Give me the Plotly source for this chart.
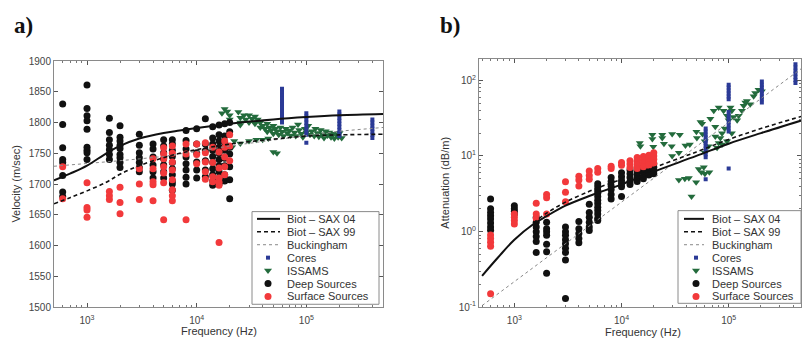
import plotly.graph_objects as go

# ---------------- Panel a : velocity ----------------
col_freqs = [600, 1000, 1600, 2000, 3000, 4000, 5000, 6000, 8000, 10000, 12000, 14000, 16000, 18000, 20000]

a_deep_vals = [
    [1830, 1797, 1759, 1740, 1735, 1714, 1687, 1680],
    [1861, 1823, 1811, 1803, 1789, 1760, 1755, 1751, 1740],
    [1807, 1784, 1772, 1763, 1756, 1748, 1740],
    [1795, 1776, 1770, 1763, 1758, 1748, 1743, 1735, 1727],
    [1781, 1763, 1751, 1743, 1735, 1727, 1720],
    [1765, 1757, 1744, 1731, 1720, 1710],
    [1772, 1762, 1751, 1741, 1731, 1720, 1710],
    [1772, 1765, 1755, 1745, 1735, 1725, 1715, 1705, 1700, 1690],
    [1787, 1771, 1757, 1744, 1733, 1723, 1711, 1700],
    [1790, 1765, 1751, 1736, 1723, 1710],
    [1806, 1765, 1754, 1738, 1723, 1712],
    [1793, 1775, 1765, 1755, 1745, 1735, 1725, 1715, 1705, 1698],
    [1796, 1780, 1770, 1760, 1750, 1740, 1730, 1720, 1710, 1700],
    [1798, 1778, 1768, 1755, 1742, 1730, 1715, 1705],
    [1800, 1785, 1760, 1749, 1728, 1707, 1676],
]
a_surf_vals = [
    [1728, 1676],
    [1702, 1662, 1658, 1646],
    [1688, 1681, 1675],
    [1695, 1670, 1652],
    [1725, 1700, 1675],
    [1741, 1725, 1704, 1699, 1673],
    [1759, 1749, 1741, 1728, 1718, 1702, 1642],
    [1762, 1750, 1736, 1723, 1707, 1691, 1681, 1673],
    [1765, 1749, 1642],
    [1765, 1748, 1733],
    [1767, 1751, 1736, 1720, 1708],
    [1760, 1735, 1712, 1704],
    [1752, 1726, 1710, 1703, 1698, 1605],
    [1770, 1760, 1744, 1728, 1715],
    [1780, 1762, 1738],
]
a_issams_f = [17000, 18000, 19000, 20000, 20000, 21000, 22000, 24000, 25000, 25000, 25000, 27000,
              28000, 30000, 30000, 32000, 34000, 34000, 36000, 38000, 38000, 40000, 42000, 44000,
              44000, 46000, 48000, 50000, 50000, 52000, 54000, 56000, 58000, 60000, 62000, 65000,
              67000, 70000, 72000, 75000, 78000, 80000, 84000, 86000, 90000, 93000, 97000, 100000,
              104000, 108000, 112000, 118000, 121000, 126000, 130000, 135000, 140000, 145000,
              150000, 156000, 162000, 168000, 174000, 180000, 187000, 195000, 201000, 210000,
              25000, 30000, 35000, 40000, 45000, 50000, 54000]
a_issams_v = [1815, 1822, 1818, 1812, 1805, 1760, 1770, 1817, 1808, 1800, 1796, 1812,
              1805, 1812, 1800, 1806, 1810, 1798, 1805, 1800, 1792, 1795, 1790, 1798,
              1785, 1792, 1788, 1795, 1782, 1790, 1786, 1780, 1792, 1785, 1778, 1790,
              1783, 1787, 1779, 1792, 1784, 1778, 1797, 1788, 1782, 1776, 1790, 1784,
              1795, 1780, 1786, 1778, 1790, 1783, 1777, 1788, 1781, 1775,
              1786, 1779, 1784, 1776, 1782, 1774, 1780, 1776, 1783, 1775,
              1766, 1770, 1772, 1772, 1774, 1752, 1750]
a_core_f = [60000] * 12 + [100000] * 9 + [200000] * 9 + [400000] * 7
a_core_v = [1800, 1805, 1810, 1815, 1820, 1825, 1830, 1835, 1840, 1845, 1850, 1855,
            1767, 1780, 1785, 1790, 1795, 1800, 1805, 1810, 1815,
            1778, 1783, 1788, 1793, 1798, 1803, 1808, 1813, 1818,
            1775, 1780, 1785, 1790, 1795, 1800, 1805]

curve_f = [500, 700, 1000, 1500, 2000, 3000, 5000, 7000, 10000, 20000, 50000, 100000, 200000, 500000]
a_sax04 = [1706, 1717, 1730, 1750, 1762, 1774, 1783, 1787, 1791, 1798, 1805, 1809, 1812, 1814]
a_sax99 = [1668, 1678, 1689, 1703, 1716, 1730, 1743, 1750, 1756, 1765, 1773, 1778, 1780, 1781]
a_buck = [1729, 1731, 1733, 1736, 1738, 1741, 1745, 1749, 1753, 1762, 1772, 1779, 1786, 1792]

# ---------------- Panel b : attenuation ----------------
b_deep_vals = [
    [2.7, 2.0, 1.79, 1.62, 1.47, 1.3, 1.15, 1.04],
    [2.2, 2.0, 1.85, 1.7],
    [1.55, 1.33, 1.15, 0.99, 0.86, 0.74, 0.53],
    [1.33, 1.09, 0.99, 0.89, 0.68, 0.54, 0.28],
    [1.15, 0.99, 0.89, 0.78, 0.69, 0.6, 0.53, 0.42, 0.13],
    [1.36, 1.09, 0.94, 0.81, 0.71],
    [2.3, 1.79, 1.55, 1.33, 1.15, 1.03],
    [4.3, 3.9, 3.5, 3.2, 2.9, 2.6, 2.35, 2.1, 1.9, 1.7, 1.5, 1.4],
    [5.2, 4.6, 4.0, 3.6, 3.1, 2.7],
    [6.0, 5.3, 4.7, 4.3, 3.9, 2.9],
    [6.5, 5.8, 5.2, 4.6, 4.2],
    [7.0, 6.3, 5.6, 5.0, 4.6],
    [7.2, 6.6, 6.0, 5.4, 5.0],
    [7.5, 6.8, 6.1, 5.6],
    [7.8, 7.0, 6.3, 5.8],
]
b_surf_vals = [
    [0.9, 0.81, 0.72, 0.64, 0.15],
    [1.7, 1.55, 1.4, 1.26],
    [2.36, 1.7, 1.5],
    [3.1, 2.8, 1.7],
    [4.55, 3.3, 2.48],
    [5.4, 4.8, 4.0],
    [6.3, 5.5, 4.9],
    [6.8, 6.1],
    [7.3, 6.8],
    [8.2, 7.5],
    [8.6, 7.8, 7.0],
    [9.5, 8.5, 7.6, 6.8],
    [9.8, 8.8, 8.0, 7.2],
    [10.2, 9.2, 8.3, 7.5],
    [11.0, 10.0, 9.0, 8.0],
]
b_issams_f = [14800, 15000, 19400, 19400, 19800, 24000, 24000, 24900, 29700, 29400, 29700, 35000,
              34300, 39500, 43400, 50000, 50500, 54600, 56500, 57000, 59800, 60000, 65000,
              34300, 39000, 42500, 49700, 52600, 55700, 58600, 60000, 66000, 45000,
              67500, 75000, 80700, 83700, 86700, 91800, 96500, 100000, 104000, 107000, 111000,
              120000, 124000, 133000, 138000, 143000, 148000, 159000, 171000, 177000, 190000,
              204000, 80700, 89600, 72600, 75000, 78000, 86700, 96500, 107000]
b_issams_v = [14.8, 13.4, 19.0, 16.7, 13.2, 19.0, 17.2, 14.5, 19.5, 13.4, 10.0, 19.0,
              11.0, 13.7, 14.1, 20.9, 17.2, 28.0, 26.7, 19.5, 15.6, 11.0, 13.4,
              4.8, 5.0, 5.1, 4.5, 6.7, 6.1, 7.1, 5.8, 6.1, 2.9,
              31.0, 24.3, 14.8, 17.2, 20.0, 23.0, 34.0, 29.5, 43.7, 39.6, 32.6,
              29.5, 34.0, 39.6, 45.9, 50.7, 53.0, 48.3, 61.7, 68.0, 75.0,
              71.6, 43.7, 39.6, 39.6, 18.0, 12.8, 14.1, 15.6, 20.0]
b_core_f = [61000] * 12 + [100000] * 14 + [204000] * 8 + [420000] * 7
b_core_v = [4.9, 9.6, 10.5, 11.5, 12.5, 13.5, 14.7, 16.0, 17.5, 19.0, 21.0, 23.0,
            6.8, 21.0, 23.0, 25.5, 28.0, 31.0, 34.0, 38.0, 56.0, 61.0, 67.0, 73.0, 80.0, 87.0,
            51.0, 56.0, 61.0, 67.0, 73.0, 80.0, 87.0, 96.0,
            92.0, 101.0, 111.0, 122.0, 134.0, 148.0, 163.0]

b_sax04 = [0.26, 0.45, 0.78, 1.25, 1.6, 2.2, 2.95, 3.5, 4.2, 6.2, 10.0, 14.5, 20.0, 30.0]
b_sax99_f = [1500, 2000, 3000, 5000, 7000, 10000, 20000, 50000, 100000, 200000, 500000]
b_sax99 = [1.3, 1.75, 2.45, 3.4, 4.1, 4.9, 7.0, 11.3, 16.5, 23.0, 34.0]
b_buck_f = [500, 5000, 50000, 500000]
b_buck = [0.105, 1.18, 13.3, 150.0]

legend_names = ["Biot \u2013 SAX 04", "Biot \u2013 SAX 99", "Buckingham", "Cores", "ISSAMS",
                "Deep Sources", "Surface Sources"]


def expand(freqs, cols):
    xs, ys = [], []
    for f, vals in zip(freqs, cols):
        for v in vals:
            xs.append(f)
            ys.append(v)
    return xs, ys


BLACK = "#111111"
RED = "#f2393b"
GREEN = "#236b3c"
BLUE = "#2b3a96"
W, H = 802, 346

STYLES = [
    dict(kind="line", line=dict(color=BLACK, width=2)),
    dict(kind="line", line=dict(color=BLACK, width=1.6, dash="4px,3px")),
    dict(kind="line", line=dict(color="#888888", width=1, dash="dot")),
    dict(kind="marker", marker=dict(symbol="square", size=4, color=BLUE)),
    dict(kind="marker", marker=dict(symbol="triangle-down", size=7, color=GREEN)),
    dict(kind="marker", marker=dict(symbol="circle", size=7, color=BLACK)),
    dict(kind="marker", marker=dict(symbol="circle", size=7, color=RED)),
]

fig = go.Figure()


def add_panel(xa, ya, deep, surf, iss_f, iss_v, core_f, core_v,
              s04_f, s04, s99_f, s99, bk_f, bk):
    dx, dy = expand(col_freqs, deep)
    sx, sy = expand(col_freqs, surf)
    common = dict(xaxis=xa, yaxis=ya, showlegend=False)
    fig.add_trace(go.Scatter(x=iss_f, y=iss_v, mode="markers", name=legend_names[4],
                             marker=STYLES[4]["marker"], **common))
    fig.add_trace(go.Scatter(x=dx, y=dy, mode="markers", name=legend_names[5],
                             marker=STYLES[5]["marker"], **common))
    fig.add_trace(go.Scatter(x=sx, y=sy, mode="markers", name=legend_names[6],
                             marker=STYLES[6]["marker"], **common))
    fig.add_trace(go.Scatter(x=core_f, y=core_v, mode="markers", name=legend_names[3],
                             marker=STYLES[3]["marker"], **common))
    fig.add_trace(go.Scatter(x=bk_f, y=bk, mode="lines", name=legend_names[2],
                             line=STYLES[2]["line"], **common))
    fig.add_trace(go.Scatter(x=s99_f, y=s99, mode="lines", name=legend_names[1],
                             line=STYLES[1]["line"], line_shape="spline", **common))
    fig.add_trace(go.Scatter(x=s04_f, y=s04, mode="lines", name=legend_names[0],
                             line=STYLES[0]["line"], line_shape="spline", **common))


add_panel("x", "y", a_deep_vals, a_surf_vals, a_issams_f, a_issams_v, a_core_f, a_core_v,
          curve_f, a_sax04, curve_f, a_sax99, curve_f, a_buck)
add_panel("x2", "y2", b_deep_vals, b_surf_vals, b_issams_f, b_issams_v, b_core_f, b_core_v,
          curve_f, b_sax04, b_sax99_f, b_sax99, b_buck_f, b_buck)

# ---------------- compact legend boxes (pixel overlay axes) ----------------
legend_font = dict(family="Liberation Sans, Arial, sans-serif", size=11, color="#333")


def add_legend(box, first_y, step, line_x, marker_x, text_x):
    x0, y0, x1, y1 = box
    fig.add_trace(go.Scatter(x=[x0, x1, x1, x0, x0], y=[y0, y0, y1, y1, y0], mode="lines",
                             fill="toself", fillcolor="white", line=dict(color="#8a8a8a", width=1),
                             xaxis="x3", yaxis="y3", showlegend=False, hoverinfo="skip"))
    for i, (name, st) in enumerate(zip(legend_names, STYLES)):
        yy = first_y + i * step
        if st["kind"] == "line":
            fig.add_trace(go.Scatter(x=list(line_x), y=[yy, yy], mode="lines", line=st["line"],
                                     xaxis="x3", yaxis="y3", showlegend=False, hoverinfo="skip"))
        else:
            fig.add_trace(go.Scatter(x=[marker_x], y=[yy], mode="markers", marker=st["marker"],
                                     xaxis="x3", yaxis="y3", showlegend=False, hoverinfo="skip"))
        fig.add_annotation(text=name, x=text_x, y=yy, xref="x3", yref="y3", xanchor="left",
                           yanchor="middle", showarrow=False, font=legend_font)


add_legend((252, 213, 379, 309), 220.5, 13.4, (257, 280), 268, 285)
add_legend((678, 212, 801, 308), 220.5, 13.4, (684, 704), 696, 710)

tickfont = dict(family="Liberation Sans, Arial, sans-serif", size=10, color="#444")
minor_x = [v * m for v in [100, 1000, 10000, 100000] for m in range(2, 10)]
axis_common = dict(showline=True, linecolor="#8a8a8a", linewidth=1, mirror="ticks",
                   ticks="inside", ticklen=4, tickcolor="#555", showgrid=False, zeroline=False,
                   tickfont=tickfont)
xticktext = ["10<sup>3</sup>", "10<sup>4</sup>", "10<sup>5</sup>"]

fig.update_layout(
    width=W, height=H, autosize=False,
    margin=dict(l=0, r=0, t=0, b=0),
    paper_bgcolor="white", plot_bgcolor="rgba(0,0,0,0)",
    showlegend=False,
    xaxis=dict(domain=[54 / W, 383 / W], type="log", range=[2.699, 5.699],
               tickvals=[1e3, 1e4, 1e5], ticktext=xticktext, ticklabelstandoff=4,
               minor=dict(tickvals=minor_x, ticks="inside", ticklen=2, tickcolor="#777"),
               anchor="y", **axis_common),
    yaxis=dict(domain=[1 - 312 / H, 1 - 57 / H], range=[1500, 1900],
               tickvals=list(range(1500, 1901, 50)), anchor="x", **axis_common),
    xaxis2=dict(domain=[479 / W, 801 / W], type="log", range=[2.67, 5.675],
                tickvals=[1e3, 1e4, 1e5], ticktext=xticktext, ticklabelstandoff=4,
                minor=dict(tickvals=minor_x, ticks="inside", ticklen=2, tickcolor="#777"),
                anchor="y2", **axis_common),
    yaxis2=dict(domain=[1 - 312 / H, 1 - 55 / H], type="log", range=[-1, 2.28],
                tickvals=[0.1, 1, 10, 100],
                ticktext=["10<sup>-1</sup>", "10<sup>0</sup>", "10<sup>1</sup>", "10<sup>2</sup>"],
                minor=dict(tickvals=[v * m for v in [0.1, 1, 10, 100] for m in range(2, 10)],
                           ticks="inside", ticklen=2, tickcolor="#777"),
                anchor="x2", **axis_common),
    xaxis3=dict(domain=[0, 1], range=[0, W], visible=False, fixedrange=True, anchor="y3"),
    yaxis3=dict(domain=[0, 1], range=[H, 0], visible=False, fixedrange=True, anchor="x3"),
)

annot_font = dict(family="Liberation Sans, Arial, sans-serif", size=11, color="#333")
title_font = dict(family="Liberation Serif, Times New Roman, serif", size=23, color="#111")
fig.add_annotation(text="<b>a)</b>", x=12 / W, y=1 - 5 / H, xref="paper", yref="paper", xanchor="left",
                   yanchor="top", showarrow=False, font=title_font)
fig.add_annotation(text="<b>b)</b>", x=438 / W, y=1 - 5 / H, xref="paper", yref="paper", xanchor="left",
                   yanchor="top", showarrow=False, font=title_font)
fig.add_annotation(text="Velocity (m/sec)", x=16 / W, y=1 - 184 / H, xref="paper", yref="paper",
                   xanchor="center", yanchor="middle",
                   textangle=-90, showarrow=False, font=annot_font)
fig.add_annotation(text="Attenuation (dB/m)", x=445 / W, y=1 - 183 / H, xref="paper", yref="paper",
                   xanchor="center", yanchor="middle",
                   textangle=-90, showarrow=False, font=annot_font)
fig.add_annotation(text="Frequency (Hz)", x=219 / W, y=1 - 337 / H, xref="paper", yref="paper",
                   xanchor="center", yanchor="middle", showarrow=False, font=annot_font)
fig.add_annotation(text="Frequency (Hz)", x=643 / W, y=1 - 338 / H, xref="paper", yref="paper",
                   xanchor="center", yanchor="middle", showarrow=False, font=annot_font)

fig.write_html("out.html")
